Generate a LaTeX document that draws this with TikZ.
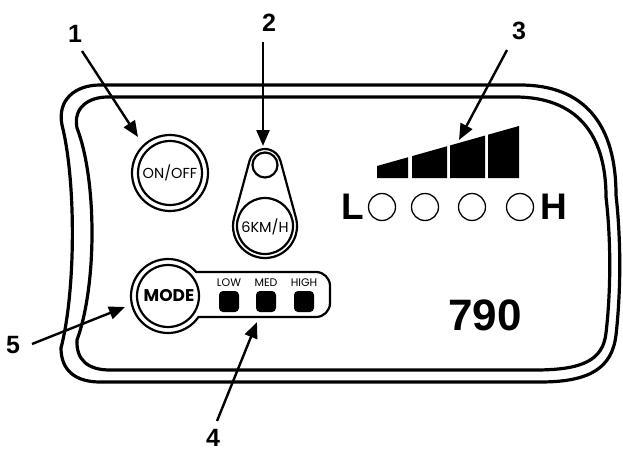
\documentclass[tikz,border=0pt]{standalone}
\usepackage{fontspec}
\setmainfont{Liberation Sans}
\newfontfamily\pop{Poppins}
\usetikzlibrary{arrows.meta,calc}
\tikzset{
  panel/.style={line width=3.2pt, line join=round},
  btn/.style={line width=2.2pt, line join=round},
  led/.style={line width=1.3pt},
  arr/.style={line width=2.4pt, -{Triangle[length=16pt,width=13pt]}},
  num/.style={font=\fontsize{25}{25}\selectfont\bfseries, anchor=base, inner sep=0pt},
  bigtxt/.style={font=\fontsize{37}{37}\selectfont\bfseries, anchor=base, inner sep=0pt},
  btntxt/.style={anchor=base, inner sep=0pt},
  smalltxt/.style={anchor=base, inner sep=0pt, font=\pop\fontsize{11}{11}\selectfont},
  sq/.style={fill=black, rounded corners=4pt, minimum width=20pt, minimum height=21pt, inner sep=0pt},
  bar/.style={fill=black}
}
\begin{document}
\begin{tikzpicture}[x=1pt,y=-1pt]
\useasboundingbox (0,0) rectangle (623,452);
% panel outer
\draw[panel] (100,85) -- (520,85) .. controls (585,85) and (616,125) .. (616,195)
  .. controls (621,240) and (621,290) .. (616,335)
  .. controls (612,368) and (590,382) .. (540,382) -- (100,382)
  .. controls (75,382) and (61,370) .. (61,348)
  .. controls (76,290) and (76,180) .. (62,125)
  .. controls (57,100) and (75,85) .. (100,85) -- cycle;
% panel inner
\draw[panel] (108,97) -- (515,97) .. controls (575,97) and (606,132) .. (606,197)
  .. controls (611,240) and (611,290) .. (606,333)
  .. controls (603,360) and (583,370) .. (535,370) -- (110,370)
  .. controls (88,370) and (76,360) .. (77,340)
  .. controls (97,285) and (97,180) .. (77,128)
  .. controls (73,108) and (88,97) .. (108,97) -- cycle;
% ON/OFF button
\coordinate (oc) at (170,173);
\draw[btn] (oc) circle[radius=38];
\draw[btn] (oc) circle[radius=32];
\node[btntxt, font=\pop\fontsize{14.5}{14.5}\selectfont] (onoff) at (170,178.5) {ON/OFF};
% 6KM/H teardrop
\coordinate (ts) at (265,165);
\coordinate (tb) at (265,226);
\draw[btn] ($(ts)+(195.21:16)$) arc[start angle=195.21, end angle=344.79, radius=16]
  -- ($(tb)+(344.79:32)$) arc[start angle=344.79, end angle=555.21, radius=32] -- cycle;
\draw[btn] (ts) circle[radius=12.5];
\draw[btn] (tb) circle[radius=28];
\node[btntxt, font=\pop\fontsize{14.5}{14.5}\selectfont] (sixkm) at (265,232) {6KM/H};
% MODE group
\coordinate (mc) at (168,296);
\draw[btn] ($(mc)+(-40.4:37)$) -- (316,272) arc[start angle=-90, end angle=0, radius=14]
  -- (330,303) arc[start angle=0, end angle=90, radius=14]
  -- ($(mc)+(34.5:37)$) arc[start angle=34.5, end angle=319.6, radius=37] -- cycle;
\draw[btn] (mc) circle[radius=31];
\node[btntxt, font=\pop\bfseries\fontsize{17}{17}\selectfont] (mode) at (169,301) {MODE};
\node[smalltxt] (low) at (229,286.5) {LOW};
\node[smalltxt] (med) at (266,286.5) {MED};
\node[smalltxt] (high) at (304,286.5) {HIGH};
\node[sq] (sqlow) at (229,301.5) {};
\node[sq] (sqmed) at (266,301.5) {};
\node[sq] (sqhigh) at (304,301.5) {};
% signal bars
\fill[bar] (377,178) -- (377,166) -- (408,157.27) -- (408,178) -- cycle;
\fill[bar] (412,178) -- (412,156.14) -- (447,146.28) -- (447,178) -- cycle;
\fill[bar] (450,178) -- (450,145.44) -- (485,135.58) -- (485,178) -- cycle;
\fill[bar] (488,178) -- (488,134.73) -- (519,126) -- (519,178) -- cycle;
% L o o o o H
\node[bigtxt] (lL) at (353,219.5) {L};
\node[bigtxt] (lH) at (554,219.5) {H};
\draw[led] (382,207) circle[radius=13.5];
\draw[led] (425,207) circle[radius=13.5];
\draw[led] (472,207) circle[radius=13.5];
\draw[led] (520,207) circle[radius=13.5];
% 790
\node[anchor=base, inner sep=0pt, font=\fontsize{44}{44}\selectfont\bfseries] (odo) at (485,330) {790};
% numbers
\node[num] (n1) at (75,42) {1};
\node[num] (n2) at (269,32) {2};
\node[num] (n3) at (519,40) {3};
\node[num] (n4) at (213,446) {4};
\node[num] (n5) at (13,353) {5};
% arrows
\coordinate (a1s) at (82,51);  \coordinate (a1e) at (138,137);
\coordinate (a2s) at (263,42); \coordinate (a2e) at (263,146);
\coordinate (a3s) at (507,50); \coordinate (a3e) at (459,140);
\coordinate (a4s) at (217,421); \coordinate (a4e) at (257,322);
\coordinate (a5s) at (32,344); \coordinate (a5e) at (125,307);
\draw[arr] (a1s) -- (a1e);
\draw[arr] (a2s) -- (a2e);
\draw[arr] (a3s) -- (a3e);
\draw[arr] (a4s) -- (a4e);
\draw[arr] (a5s) -- (a5e);
\end{tikzpicture}
\end{document}
